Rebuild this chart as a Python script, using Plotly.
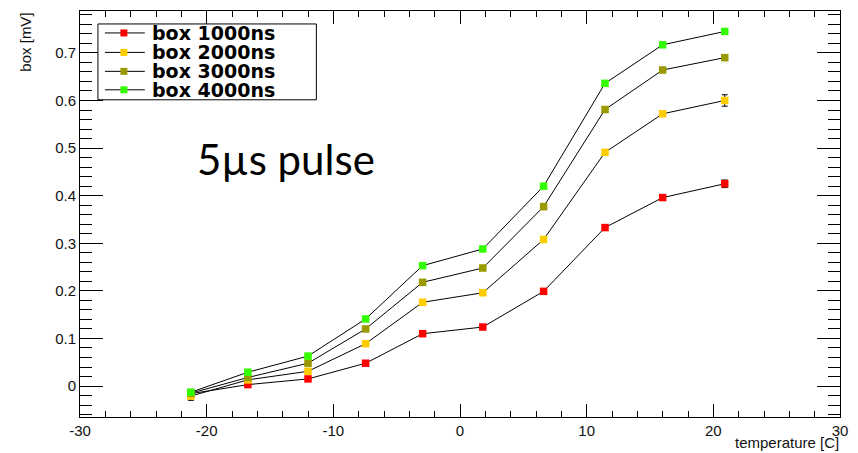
import plotly.graph_objects as go

# ---------------- data ----------------
temperature = [-21.25, -16.75, -12.0, -7.45, -2.95, 1.8, 6.6, 11.45, 16.0, 20.9]

series_names = ["box 1000ns", "box 2000ns", "box 3000ns", "box 4000ns"]
series_colors = ["#ff0000", "#ffcc00", "#999900", "#33ff00"]

box_1000 = [-0.016, 0.003, 0.015, 0.048, 0.110, 0.124, 0.199, 0.333, 0.396, 0.425]
box_2000 = [-0.021, 0.013, 0.031, 0.089, 0.176, 0.196, 0.308, 0.491, 0.572, 0.600]
box_3000 = [-0.015, 0.018, 0.048, 0.120, 0.218, 0.248, 0.377, 0.581, 0.664, 0.690]
box_4000 = [-0.013, 0.029, 0.063, 0.141, 0.253, 0.288, 0.420, 0.636, 0.717, 0.745]

err_1000 = [0.006, 0.003, 0.003, 0.003, 0.003, 0.003, 0.003, 0.003, 0.004, 0.008]
err_2000 = [0.009, 0.003, 0.003, 0.003, 0.003, 0.003, 0.003, 0.004, 0.005, 0.012]
err_3000 = [0.006, 0.003, 0.003, 0.003, 0.003, 0.003, 0.003, 0.004, 0.005, 0.006]
err_4000 = [0.006, 0.003, 0.003, 0.003, 0.003, 0.003, 0.003, 0.004, 0.005, 0.006]

x_tick_values = [-30, -20, -10, 0, 10, 20, 30]
x_tick_labels = ["-30", "-20", "-10", "0", "10", "20", "30"]

series_values = [box_1000, box_2000, box_3000, box_4000]
series_errors = [err_1000, err_2000, err_3000, err_4000]

# ---------------- figure ----------------
W, H = 858, 453
ML, MR, MT, MB = 80, 16, 10, 36
PW, PH = W - ML - MR, H - MT - MB

fig = go.Figure()
for name, color, vals, errs in zip(series_names, series_colors, series_values, series_errors):
    fig.add_trace(go.Scatter(
        x=temperature, y=vals, name=name, mode="lines+markers",
        line=dict(color="black", width=1),
        marker=dict(symbol="square", size=7.5, color=color, line=dict(width=0)),
        error_y=dict(type="data", array=errs, color="black", thickness=1, width=3),
        showlegend=False,
    ))

tick_font = dict(family="Liberation Sans, Arial, sans-serif", size=15, color="#111111")

fig.update_layout(
    width=W, height=H,
    margin=dict(l=ML, r=MR, t=MT, b=MB, pad=0),
    paper_bgcolor="white", plot_bgcolor="white",
    xaxis=dict(
        range=[-30, 30], tickmode="array", tickvals=x_tick_values, ticktext=x_tick_labels,
        ticks="inside", ticklen=13, tickwidth=1, tickcolor="black",
        minor=dict(ticks="inside", dtick=2, tick0=0, ticklen=6, tickwidth=1, tickcolor="black"),
        showline=True, linecolor="black", linewidth=1, mirror="allticks",
        showgrid=False, zeroline=False, tickfont=tick_font,
    ),
    yaxis=dict(
        range=[-0.065, 0.788], dtick=0.1, tick0=0,
        ticks="inside", ticklen=23, tickwidth=1, tickcolor="black",
        minor=dict(ticks="inside", dtick=0.02, tick0=0, ticklen=12, tickwidth=1, tickcolor="black"),
        showline=True, linecolor="black", linewidth=1, mirror="allticks",
        showgrid=False, zeroline=False, tickfont=tick_font,
    ),
)

def px_x(p):
    return (p - ML) / PW

def px_y(p):
    return 1 - (p - MT) / PH

# axis titles
fig.add_annotation(text="box [mV]", textangle=-90, xref="paper", yref="paper",
                   x=px_x(25), y=1, xanchor="center", yanchor="top", showarrow=False,
                   font=tick_font)
fig.add_annotation(text="temperature [C]", xref="paper", yref="paper",
                   x=1, y=0, yshift=-35, xanchor="right", yanchor="bottom", showarrow=False,
                   font=tick_font, borderpad=0)

# text label
fig.add_annotation(text="5µs pulse", xref="paper", yref="paper",
                   x=px_x(195), y=px_y(158), xanchor="left", yanchor="middle", showarrow=False,
                   font=dict(family="Lato, Open Sans, sans-serif", size=42, color="black"))

# legend box (drawn manually to match compact ROOT legend)
LEG_X0, LEG_X1, LEG_Y0, LEG_Y1 = 98, 317, 23, 99
fig.add_shape(type="rect", xref="paper", yref="paper",
              x0=px_x(LEG_X0), x1=px_x(LEG_X1), y0=px_y(LEG_Y1), y1=px_y(LEG_Y0),
              line=dict(color="black", width=1), fillcolor="white", layer="above")
row_y = [32, 51.5, 70.5, 89]
for name, color, ry in zip(series_names, series_colors, row_y):
    fig.add_shape(type="line", xref="paper", yref="paper",
                  x0=px_x(105), x1=px_x(145), y0=px_y(ry), y1=px_y(ry),
                  line=dict(color="black", width=1), layer="above")
    fig.add_shape(type="rect", xref="paper", yref="paper",
                  x0=px_x(124 - 3.5), x1=px_x(124 + 3.5), y0=px_y(ry + 3.5), y1=px_y(ry - 3.5),
                  line=dict(width=0), fillcolor=color, layer="above")
    fig.add_annotation(text="<b>%s</b>" % name, xref="paper", yref="paper",
                       x=px_x(151), y=px_y(ry), xanchor="left", yanchor="middle", showarrow=False,
                       font=dict(family="DejaVu Sans, sans-serif", size=19, color="black"),
                       borderpad=0)

fig.write_html("out.html",
               config={"displayModeBar": False},
               post_script="document.body.style.margin='0';document.body.style.padding='0';"
                           "document.documentElement.style.overflow='hidden';")
